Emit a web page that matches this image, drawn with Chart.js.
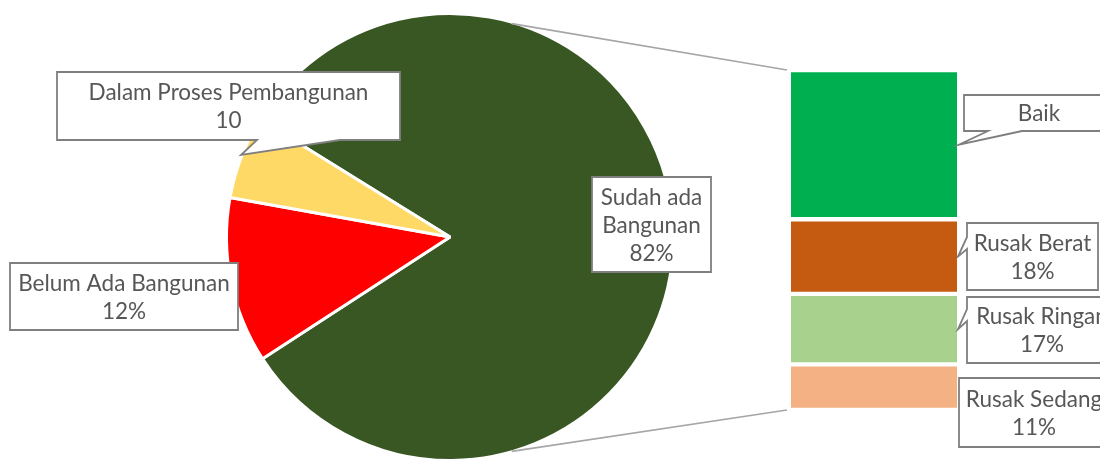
<!DOCTYPE html>
<html>
<head>
<meta charset="utf-8">
<script src="https://cdn.jsdelivr.net/npm/chart.js@4.4.1/dist/chart.umd.min.js"></script>
<style>
  html, body { margin: 0; padding: 0; background: #fff; }
  #wrap { position: relative; width: 1100px; height: 459px; overflow: hidden; background: #fff; }
  canvas { position: absolute; }
  #pie { left: 220px; top: 7px; }
  #bar { left: 791px; top: 70px; }
  #over { left: 0; top: 0; pointer-events: none; }
</style>
</head>
<body>
<div id="wrap">
  <canvas id="pie" width="460" height="460"></canvas>
  <canvas id="bar" width="166" height="340"></canvas>
  <canvas id="over" width="1100" height="459"></canvas>
</div>
<script>
// ---- data ----
const pieCategories = ['Sudah ada Bangunan', 'Belum Ada Bangunan', 'Dalam Proses Pembangunan'];
const pieValues = [82, 12, 6];
const pieLabelTexts = [['Sudah ada', 'Bangunan', '82%'], ['Belum Ada Bangunan', '12%'], ['Dalam Proses Pembangunan', '10']];
const barCategories = ['Baik', 'Rusak Berat', 'Rusak Ringan', 'Rusak Sedang'];
const barValues = [36, 18, 17, 11];
const barLabelTexts = [['Baik'], ['Rusak Berat', '18%'], ['Rusak Ringan', '17%'], ['Rusak Sedang', '11%']];

// ---- styles ----
const pieColors = ['#385723', '#FF0000', '#FFD966'];
const barColors = ['#00B050', '#C55A11', '#A9D18E', '#F4B183'];
const FONT = '22.5px Lato, "Open Sans", sans-serif';
const TEXT_COLOR = '#575757';
const BOX_BORDER = '#7F7F7F';
const LINE_H = 28;

const pieChart = new Chart(document.getElementById('pie'), {
  type: 'pie',
  data: {
    labels: pieCategories,
    datasets: [{ data: pieValues, backgroundColor: pieColors, borderColor: '#ffffff', borderWidth: 3 }]
  },
  options: {
    responsive: false, animation: false, rotation: 301.8,
    layout: { padding: 5 },
    plugins: { legend: { display: false }, tooltip: { enabled: false } }
  }
});

const barChart = new Chart(document.getElementById('bar'), {
  type: 'bar',
  data: {
    labels: [''],
    datasets: barCategories.map((c, i) => ({
      label: c, data: [barValues[i]], backgroundColor: barColors[i],
      borderColor: '#ffffff', borderWidth: { top: 2.5, bottom: 2.5, left: 0, right: 0 },
      borderSkipped: false, categoryPercentage: 1, barPercentage: 1
    }))
  },
  options: {
    responsive: false, animation: false,
    layout: { padding: 0 },
    scales: {
      x: { display: false, stacked: true },
      y: { display: false, stacked: true, reverse: true, min: 0, max: barValues.reduce((a, b) => a + b, 0) }
    },
    plugins: { legend: { display: false }, tooltip: { enabled: false } }
  }
});

// ---- overlay: connector lines and callouts ----
const ov = document.getElementById('over').getContext('2d');
const pieOff = { x: 220, y: 7 }, barOff = { x: 791, y: 70 };

function callout(box, lines, ptr) {
  const { x, y, w, h } = box;
  ov.beginPath();
  ov.moveTo(x, y);
  ov.lineTo(x + w, y);
  ov.lineTo(x + w, y + h);
  if (ptr && ptr.edge === 'bottom') {
    ov.lineTo(ptr.b, y + h); ov.lineTo(ptr.tip[0], ptr.tip[1]); ov.lineTo(ptr.a, y + h);
  }
  ov.lineTo(x, y + h);
  if (ptr && ptr.edge === 'left') {
    ov.lineTo(x, ptr.b); ov.lineTo(ptr.tip[0], ptr.tip[1]); ov.lineTo(x, ptr.a);
  }
  ov.closePath();
  ov.fillStyle = '#ffffff';
  ov.fill();
  ov.lineWidth = 1.8;
  ov.strokeStyle = BOX_BORDER;
  ov.stroke();
  ov.fillStyle = TEXT_COLOR;
  ov.font = FONT;
  ov.textAlign = 'center';
  ov.textBaseline = 'middle';
  const cx = x + w / 2, cy = y + h / 2;
  lines.forEach((t, i) => ov.fillText(t, cx, cy + (i - (lines.length - 1) / 2) * LINE_H + 1));
}

(function drawOverlay() {
  const arc = pieChart.getDatasetMeta(0).data[0];
  const cx = arc.x + pieOff.x, cy = arc.y + pieOff.y, r = arc.outerRadius;
  const metas = barCategories.map((c, i) => barChart.getDatasetMeta(i).data[0]);
  const barLeft = metas[0].x - metas[0].width / 2 + barOff.x;
  const barRight = metas[0].x + metas[0].width / 2 + barOff.x;
  const tops = metas.map(m => Math.min(m.y, m.base) + barOff.y);
  const bots = metas.map(m => Math.max(m.y, m.base) + barOff.y);
  const barTop = Math.min(...tops);
  const barBottom = Math.max(...bots);
  const ang = 74.5 * Math.PI / 180;
  ov.strokeStyle = '#A6A6A6';
  ov.lineWidth = 1.7;
  ov.beginPath();
  ov.moveTo(cx + r * Math.cos(-ang) + 2, cy + r * Math.sin(-ang) + 2);
  ov.lineTo(barLeft - 4, barTop);
  ov.moveTo(cx + r * Math.cos(ang) + 2, cy + r * Math.sin(ang) - 1);
  ov.lineTo(barLeft - 4, barBottom);
  ov.stroke();

  // pie labels
  callout({ x: 592, y: 177, w: 119, h: 95 }, pieLabelTexts[0]);
  callout({ x: 10, y: 263, w: 228, h: 67 }, pieLabelTexts[1]);
  callout({ x: 57, y: 72, w: 343, h: 68 }, pieLabelTexts[2], { edge: 'bottom', a: 257, b: 340, tip: [241, 155] });

  // bar labels
  const segMid = i => (tops[i] + bots[i]) / 2;
  callout({ x: 964, y: 95, w: 150, h: 36 }, barLabelTexts[0], { edge: 'bottom', a: 988, b: 1022, tip: [barRight + 2, segMid(0)] });
  callout({ x: 967, y: 223, w: 131, h: 67 }, barLabelTexts[1], { edge: 'left', a: 237, b: 249, tip: [barRight + 1, segMid(1)] });
  callout({ x: 967, y: 297, w: 150, h: 66 }, barLabelTexts[2], { edge: 'left', a: 309, b: 321, tip: [barRight + 1, segMid(2)] });
  callout({ x: 959, y: 378, w: 150, h: 69 }, barLabelTexts[3]);
})();
</script>
</body>
</html>
